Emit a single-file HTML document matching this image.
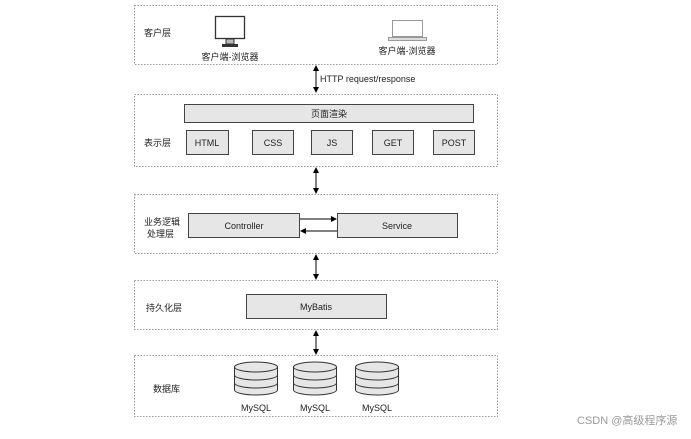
<!DOCTYPE html>
<html><head><meta charset="utf-8"><style>
html,body{margin:0;padding:0;background:#fff;}
svg text{font-family:"Liberation Sans","Noto Sans CJK SC",sans-serif;font-size:9px;fill:#222;}
</style></head><body>
<svg width="691" height="434" viewBox="0 0 691 434" xmlns="http://www.w3.org/2000/svg">
<defs>
<marker id="a" markerWidth="6" markerHeight="6" refX="5" refY="3" orient="auto-start-reverse" markerUnits="userSpaceOnUse"><path d="M0,0 L6,3 L0,6 z" fill="#000"/></marker>
</defs>
<g fill="none" stroke="#999" stroke-dasharray="1.5,1.5" stroke-width="1">
<rect x="134.5" y="5.5" width="363" height="59"/>
<rect x="134.5" y="94.5" width="363" height="72"/>
<rect x="134.5" y="194.5" width="363" height="59"/>
<rect x="134.5" y="280.5" width="363" height="49"/>
<rect x="134.5" y="355.5" width="363" height="61"/>
</g>
<g fill="#e6e6e6" stroke="#444" stroke-width="1">
<rect x="184.5" y="104.5" width="289" height="18"/>
<rect x="186.5" y="130.5" width="42" height="24"/>
<rect x="252.5" y="130.5" width="41" height="24"/>
<rect x="311.5" y="130.5" width="41" height="24"/>
<rect x="372.5" y="130.5" width="41" height="24"/>
<rect x="433.5" y="130.5" width="41" height="24"/>
<rect x="188.5" y="213.5" width="111" height="24"/>
<rect x="337.5" y="213.5" width="120" height="24"/>
<rect x="246.5" y="294.5" width="140" height="24"/>
</g>
<g stroke="#000" stroke-width="1" fill="none">
<line x1="316" y1="66" x2="316" y2="92" marker-start="url(#a)" marker-end="url(#a)"/>
<line x1="316" y1="168" x2="316" y2="193" marker-start="url(#a)" marker-end="url(#a)"/>
<line x1="316" y1="255" x2="316" y2="279" marker-start="url(#a)" marker-end="url(#a)"/>
<line x1="316" y1="331" x2="316" y2="354" marker-start="url(#a)" marker-end="url(#a)"/>
<line x1="300" y1="219" x2="336" y2="219" marker-end="url(#a)"/>
<line x1="337" y1="231" x2="301" y2="231" marker-end="url(#a)"/>
</g>
<rect x="215.5" y="16.5" width="29" height="22" fill="#fff" stroke="#333" stroke-width="1.3"/>
<rect x="226" y="39" width="8" height="5" fill="#bbb" stroke="#333" stroke-width="1"/>
<rect x="222" y="44" width="16" height="3" fill="#333"/>
<rect x="392.5" y="20.5" width="30" height="16" fill="#fff" stroke="#999" stroke-width="1"/>
<rect x="388.5" y="37.5" width="38" height="3" fill="#ddd" stroke="#999" stroke-width="1"/>
<g fill="#e6e6e6" stroke="#333" stroke-width="1">
<g id="c"><path d="M234.5,367 v23 a21.5,5 0 0 0 43,0 v-23"/><ellipse cx="256" cy="367" rx="21.5" ry="5"/><path d="M234.5,375 a21.5,5 0 0 0 43,0 M234.5,383 a21.5,5 0 0 0 43,0" fill="none"/></g>
<use href="#c" x="59"/>
<use href="#c" x="121"/>
</g>
<text x="144" y="36">客户层</text>
<text x="230" y="60" text-anchor="middle">客户端-浏览器</text>
<text x="407" y="54" text-anchor="middle">客户端-浏览器</text>
<text x="320" y="82">HTTP request/response</text>
<text x="329" y="117" text-anchor="middle">页面渲染</text>
<text x="144" y="146">表示层</text>
<text x="207" y="146" text-anchor="middle">HTML</text>
<text x="273" y="146" text-anchor="middle">CSS</text>
<text x="332" y="146" text-anchor="middle">JS</text>
<text x="393" y="146" text-anchor="middle">GET</text>
<text x="454" y="146" text-anchor="middle">POST</text>
<text x="144" y="225">业务逻辑</text>
<text x="147" y="237">处理层</text>
<text x="244" y="229" text-anchor="middle">Controller</text>
<text x="397" y="229" text-anchor="middle">Service</text>
<text x="146" y="311">持久化层</text>
<text x="316" y="310" text-anchor="middle">MyBatis</text>
<text x="153" y="392">数据库</text>
<text x="256" y="411" text-anchor="middle">MySQL</text>
<text x="315" y="411" text-anchor="middle">MySQL</text>
<text x="377" y="411" text-anchor="middle">MySQL</text>
<text x="577" y="424" style="fill:#999;font-size:11px">CSDN @高级程序源</text>
</svg>
</body></html>
